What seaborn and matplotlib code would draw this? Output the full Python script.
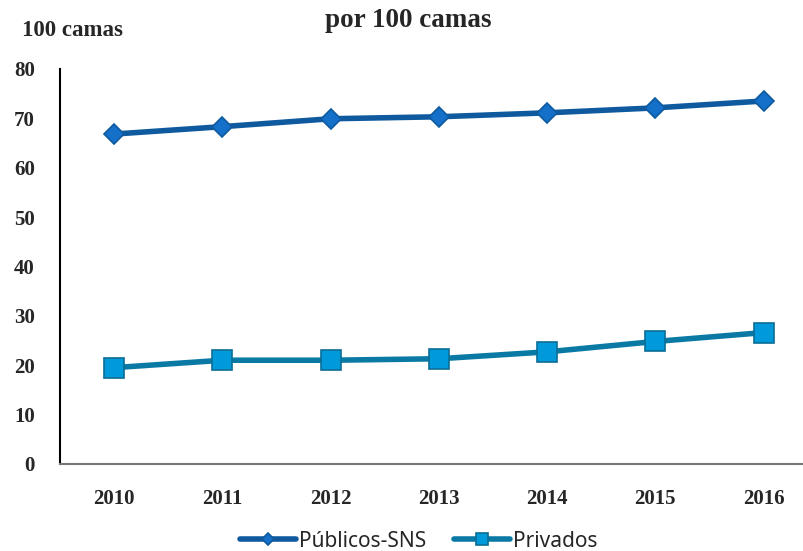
import pandas as pd
import matplotlib.pyplot as plt
import seaborn as sns

# data
anos = ["2010", "2011", "2012", "2013", "2014", "2015", "2016"]
publicos = [66.8, 68.3, 69.9, 70.3, 71.1, 72.1, 73.5]
privados = [19.5, 21.0, 21.0, 21.3, 22.7, 24.8, 26.6]
series_names = ["Públicos-SNS", "Privados"]

df = pd.DataFrame({
    "ano": anos * 2,
    "valor": publicos + privados,
    "setor": [series_names[0]] * len(anos) + [series_names[1]] * len(anos),
})

sns.set_style("white")
plt.rcParams["font.family"] = ["Liberation Serif", "DejaVu Serif"]

fig = plt.figure(figsize=(8.04, 5.51), dpi=100)
ax = fig.add_axes([0.0746, 0.158, 0.925, 0.717])

styles = {
    "Públicos-SNS": dict(color="#0F5A9E", marker="D", markersize=10,
                         markerfacecolor="#1470C8", markeredgecolor="#0F5A9E"),
    "Privados": dict(color="#0A7AA5", marker="s", markersize=14,
                     markerfacecolor="#0099D9", markeredgecolor="#0A6E96"),
}
for name in series_names:
    sub = df[df["setor"] == name]
    sns.lineplot(data=sub, x="ano", y="valor", ax=ax, linewidth=4,
                 label=name, markeredgewidth=1.2, **styles[name])

ax.set_xlim(-0.5, 6.37)
ax.set_ylim(0, 80)
ax.set_yticks(range(0, 81, 10))
ax.set_xlabel("")
ax.set_ylabel("")
ax.tick_params(axis="both", labelsize=15, length=0)
ax.tick_params(axis="x", pad=18)
ax.tick_params(axis="y", pad=18)
for lab in ax.get_yticklabels() + ax.get_xticklabels():
    lab.set_fontweight("bold")

sns.despine(ax=ax)
ax.spines["left"].set_color("black")
ax.spines["left"].set_linewidth(1.5)
ax.spines["bottom"].set_color("#777777")
ax.spines["bottom"].set_linewidth(1.5)

fig.text(0.508, 0.962, "por 100 camas", ha="center", va="center",
         fontsize=19.5, fontweight="bold")
fig.text(0.027, 0.945, "100 camas", ha="left", va="center",
         fontsize=16.5, fontweight="bold")

handles, labels = ax.get_legend_handles_labels()
ax.get_legend().remove()
fig.legend(handles, labels, loc="center", bbox_to_anchor=(0.521, 0.018),
           ncol=2, frameon=False, handlelength=2.7, columnspacing=1.3,
           handletextpad=0.15, markerscale=0.6,
           prop={"family": "Noto Sans", "size": 15})

fig.savefig("out.png", dpi=100)
